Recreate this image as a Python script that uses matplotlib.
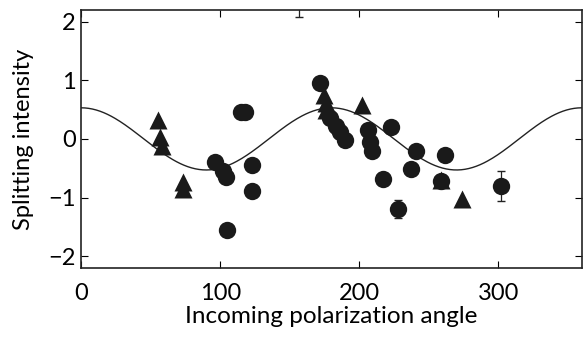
import numpy as np
import matplotlib
matplotlib.use('Agg')
import matplotlib.pyplot as plt

# circles (angle, intensity)
circ_x = [96, 102, 104, 105, 115, 118, 123, 123, 172, 179, 183, 186, 190,
          206, 208, 209, 223, 217, 228, 241, 237, 262, 259, 302]
circ_y = [-0.39, -0.55, -0.65, -1.55, 0.46, 0.46, -0.44, -0.89, 0.95, 0.35, 0.22, 0.12, -0.02,
          0.16, -0.05, -0.2, 0.2, -0.68, -1.2, -0.21, -0.51, -0.27, -0.72, -0.8]
circ_err = [0, 0.08, 0, 0, 0, 0, 0, 0, 0, 0, 0, 0, 0,
            0, 0, 0, 0, 0, 0.15, 0, 0, 0, 0, 0.26]

# triangles
tri_x = [55, 57, 58, 73, 73, 175, 176, 176, 202, 259, 274]
tri_y = [0.33, 0.04, -0.12, -0.74, -0.86, 0.74, 0.62, 0.5, 0.58, -0.7, -1.02]

# point above the visible range, only its error bar shows
off_x = [157]
off_y = [2.32]
off_err = [0.24]

amp = 0.53
xs = np.linspace(0, 360, 400)
fit = amp * np.cos(np.deg2rad(2 * xs))

plt.rcParams['font.family'] = ['Lato', 'DejaVu Sans']
plt.rcParams['axes.unicode_minus'] = True

fig = plt.figure(figsize=(5.84, 3.4), dpi=100)
ax = fig.add_axes([0.139, 0.212, 0.857, 0.759])

ax.plot(xs, fit, color='#222222', lw=1.0, zorder=2)
ax.errorbar(circ_x, circ_y, yerr=circ_err, fmt='none', ecolor='#222222', elinewidth=0.9,
            capsize=3, zorder=2)
ax.errorbar(off_x, off_y, yerr=off_err, fmt='none', ecolor='#222222', elinewidth=0.9,
            capsize=3, zorder=2)
ax.plot(tri_x, tri_y, '^', color='#1a1a1a', ms=13, mec='none', zorder=3)
ax.plot(circ_x, circ_y, 'o', color='#1a1a1a', ms=12.5, mec='none', zorder=3)

ax.set_xlim(0, 360)
ax.set_ylim(-2.2, 2.2)
ax.set_xticks([0, 100, 200, 300])
ax.set_yticks([-2, -1, 0, 1, 2])
ax.tick_params(direction='in', length=5, width=0.8, top=True, right=True,
               labelsize=17)
ax.tick_params(axis='x', pad=11)
ax.tick_params(axis='y', pad=4)
for s in ax.spines.values():
    s.set_linewidth(1.2)
    s.set_color('#222222')

ax.set_xlabel('Incoming polarization angle', fontsize=17.5, labelpad=1)
ax.set_ylabel('Splitting intensity', fontsize=17, labelpad=10)

fig.savefig('out.png', dpi=100)
